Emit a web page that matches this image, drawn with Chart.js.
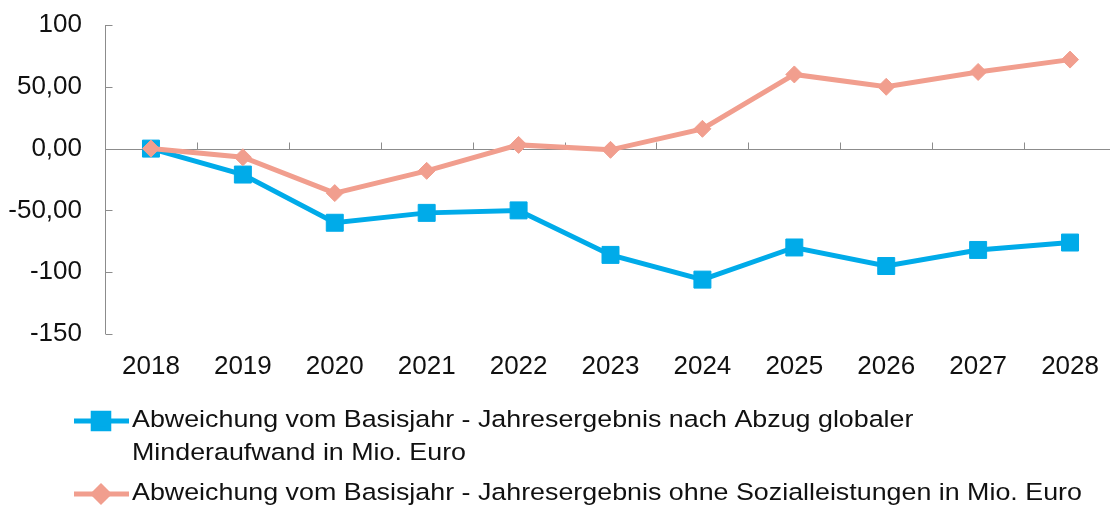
<!DOCTYPE html>
<html>
<head>
<meta charset="utf-8">
<script src="https://cdn.jsdelivr.net/npm/chart.js@4/dist/chart.umd.min.js"></script>
<style>
  html, body { margin: 0; padding: 0; background: #fff; }
  #wrap { width: 1110px; height: 509px; overflow: hidden; }
</style>
</head>
<body>
<div id="wrap"><canvas id="chart" width="1130" height="509"></canvas></div>
<script>
const years = ["2018", "2019", "2020", "2021", "2022", "2023", "2024", "2025", "2026", "2027", "2028"];
const nachAbzug = [0, -21, -60, -52, -50, -86, -106, -80, -95, -82, -76];
const ohneSozial = [0, -7, -36, -18, 3, -1, 16, 60, 50, 62, 72];
const yTickValues = [100, 50, 0, -50, -100, -150];
const yTickLabels = ["100", "50,00", "0,00", "-50,00", "-100", "-150"];
const seriesNames = [
  ["Abweichung vom Basisjahr - Jahresergebnis nach Abzug globaler", "Minderaufwand in Mio. Euro"],
  ["Abweichung vom Basisjahr - Jahresergebnis ohne Sozialleistungen in Mio. Euro"],
];

const BLUE = "#00abe9";
const SALMON = "#f19e8e";
const FONT = "Liberation Sans";

// Excel style axes: y line with inside ticks, x axis line at zero with ticks between years
const excelAxes = {
  id: "excelAxes",
  beforeDatasetsDraw(chart) {
    const { ctx, chartArea, scales } = chart;
    const x = scales.x, y = scales.y;
    const left = Math.round(chartArea.left) + 0.5;
    const zero = Math.round(y.getPixelForValue(0)) + 0.5;
    ctx.save();
    ctx.strokeStyle = "#8c8c8c";
    ctx.lineWidth = 1;
    ctx.beginPath();
    ctx.moveTo(left, y.getPixelForValue(yTickValues[0]));
    ctx.lineTo(left, y.getPixelForValue(yTickValues[yTickValues.length - 1]));
    yTickValues.forEach((v) => {
      const p = Math.round(y.getPixelForValue(v)) + 0.5;
      ctx.moveTo(left, p);
      ctx.lineTo(left + 7, p);
    });
    ctx.moveTo(left, zero);
    ctx.lineTo(chartArea.right, zero);
    for (let i = 1; i <= years.length; i++) {
      const p = Math.round(x.getPixelForValue(i - 0.5)) + 0.5;
      ctx.moveTo(p, zero);
      ctx.lineTo(p, zero - 7);
    }
    ctx.stroke();
    ctx.restore();
  },
};

// legend under the chart, line with marker like in the spreadsheet
const excelLegend = {
  id: "excelLegend",
  afterDraw(chart) {
    const { ctx } = chart;
    const rows = [421, 494];
    ctx.save();
    chart.data.datasets.forEach((ds, i) => {
      const yy = rows[i];
      ctx.strokeStyle = ds.borderColor;
      ctx.lineWidth = ds.borderWidth;
      ctx.beginPath();
      ctx.moveTo(74, yy);
      ctx.lineTo(129, yy);
      ctx.stroke();
      ctx.fillStyle = ds.pointBackgroundColor;
      Chart.helpers.drawPoint(ctx, {
        pointStyle: ds.pointStyle,
        radius: ds.pointRadius - 1,
        rotation: 0,
        borderWidth: ds.pointBorderWidth,
      }, 101, yy);
      ctx.fillStyle = "#111";
      ctx.font = "24.5px '" + FONT + "'";
      ctx.textBaseline = "middle";
      seriesNames[i].forEach((line, k) => {
        ctx.save();
        ctx.translate(132, yy - 1 + k * 33);
        ctx.scale(1.095, 1);
        ctx.fillText(line, 0, 0);
        ctx.restore();
      });
    });
    ctx.restore();
  },
};

new Chart(document.getElementById("chart"), {
  type: "line",
  data: {
    labels: years,
    datasets: [
      {
        label: seriesNames[0].join(" "),
        data: nachAbzug,
        borderColor: BLUE,
        backgroundColor: BLUE,
        borderWidth: 5,
        pointStyle: "rect",
        pointRadius: 12,
        pointBackgroundColor: BLUE,
        pointBorderColor: BLUE,
        pointBorderWidth: 1,
        tension: 0,
        order: 1,
      },
      {
        label: seriesNames[1].join(" "),
        data: ohneSozial,
        borderColor: SALMON,
        backgroundColor: SALMON,
        borderWidth: 5,
        pointStyle: "rectRot",
        pointRadius: 8.5,
        pointBackgroundColor: SALMON,
        pointBorderColor: SALMON,
        pointBorderWidth: 1,
        tension: 0,
        order: 0,
      },
    ],
  },
  options: {
    responsive: false,
    animation: false,
    layout: { padding: { top: 25, right: 14, left: 0, bottom: 0 } },
    plugins: {
      legend: { display: false },
      tooltip: { enabled: false },
    },
    scales: {
      x: {
        offset: true,
        grid: { display: false, drawTicks: false },
        border: { display: false },
        ticks: { color: "#111", font: { family: FONT, size: 26 }, padding: 17, maxRotation: 0 },
        afterFit: (s) => { s.height = 175; },
      },
      y: {
        min: -150,
        max: 100,
        grid: { display: false, drawTicks: false },
        border: { display: false },
        afterBuildTicks: (s) => { s.ticks = yTickValues.map((v) => ({ value: v })); },
        ticks: {
          color: "#111",
          font: { family: FONT, size: 26 },
          padding: 23,
          callback: (v) => yTickLabels[yTickValues.indexOf(v)],
        },
        afterFit: (s) => {
          s.width = 105;
          s.paddingTop = 0;
          s.paddingBottom = 0;
        },
      },
    },
  },
  plugins: [excelAxes, excelLegend],
});
</script>
</body>
</html>
